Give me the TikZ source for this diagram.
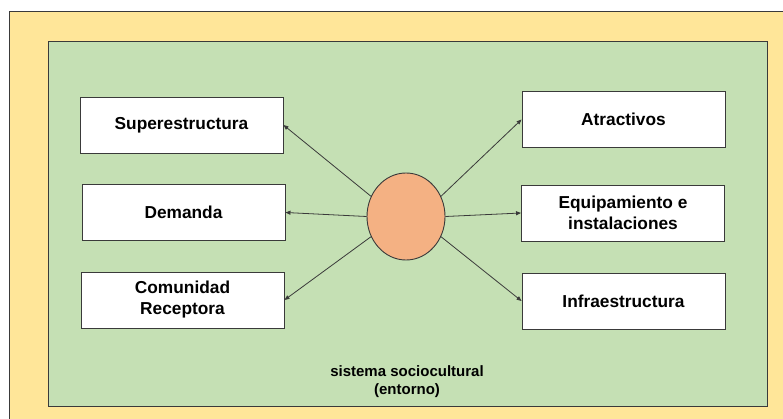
\documentclass[tikz,border=0pt]{standalone}
\usepackage{fontspec}
\setmainfont{Liberation Sans}
\usetikzlibrary{shapes.geometric,arrows.meta}
\definecolor{outery}{HTML}{FFE699}
\definecolor{inng}{HTML}{C5E0B4}
\definecolor{circo}{HTML}{F4B183}
\definecolor{edge}{HTML}{3A3A3A}
\tikzset{
  box/.style={draw=edge, line width=0.9pt, fill=white, minimum width=203pt, minimum height=56pt, align=center, font=\bfseries\fontsize{17.3}{21}\selectfont, inner sep=0pt},
  conn/.style={draw=edge, line width=0.8pt, -{Triangle[length=5pt,width=4pt]}},
}
\begin{document}
\begin{tikzpicture}[x=1pt,y=-1pt]
\useasboundingbox (0,0) rectangle (783,419);
\fill[white] (0,0) rectangle (783,419);
\draw[fill=outery, draw=edge, line width=0.9pt] (9,11) rectangle (790,430);
\draw[fill=inng, draw=edge, line width=0.9pt] (48,41) rectangle (767,406);
\node[box] (sup) at (181.5,125) {Superestructura};
\node[box] (dem) at (183.5,212.5) {Demanda};
\node[box] (com) at (182.5,300) {Comunidad\\Receptora};
\node[box] (atr) at (623.5,119.5) {Atractivos};
\node[box] (equ) at (623,213) {Equipamiento e\\instalaciones};
\node[box] (inf) at (623.5,301) {Infraestructura};
\node[ellipse, draw=edge, line width=0.9pt, fill=circo, minimum width=78pt, minimum height=87pt, inner sep=0pt] (c) at (406,216.5) {};
\draw[conn] (c.150) -- (sup.east);
\draw[conn] (c.west) -- (dem.east);
\draw[conn] (c.210) -- (com.east);
\draw[conn] (c.30) -- (atr.west);
\draw[conn] (c.east) -- (equ.west);
\draw[conn] (c.-30) -- (inf.west);
\node[font=\bfseries\fontsize{15}{18}\selectfont, align=center] (sis) at (407,382) {sistema sociocultural\\(entorno)};
\end{tikzpicture}
\end{document}
